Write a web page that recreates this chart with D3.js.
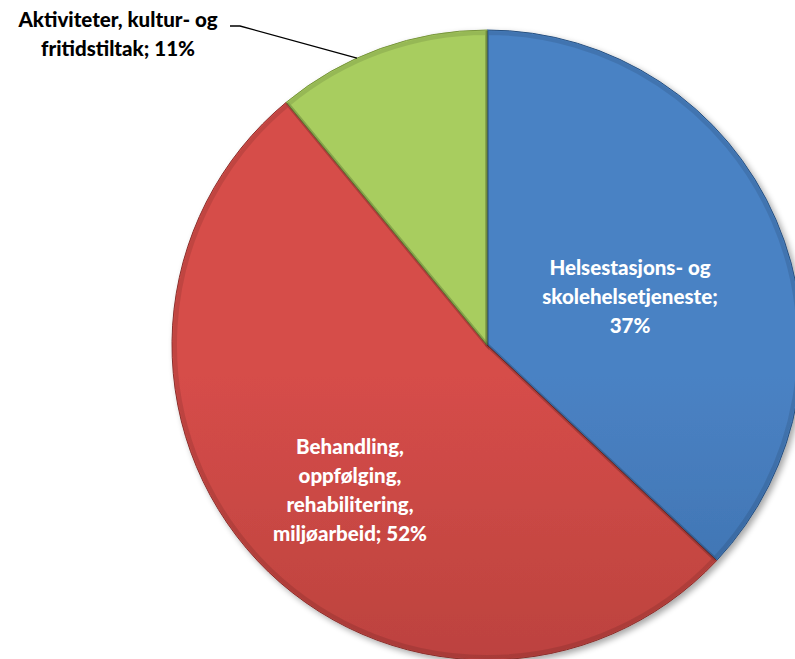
<!DOCTYPE html>
<html><head><meta charset="utf-8">
<script src="https://cdn.jsdelivr.net/npm/d3@7"></script>
<style>
html,body{margin:0;padding:0;background:#fff;overflow:hidden;}
text{font-family:Lato,"Open Sans",sans-serif;font-weight:900;}
</style></head>
<body>
<svg id="chart" width="795" height="659"></svg>
<script>
const categories = ["Helsestasjons- og skolehelsetjeneste", "Behandling, oppfølging, rehabilitering, miljøarbeid", "Aktiviteter, kultur- og fritidstiltak"];
const values = [37, 52, 11];
const labelLines = [
  ["Helsestasjons- og", "skolehelsetjeneste;", "37%"],
  ["Behandling,", "oppfølging,", "rehabilitering,", "miljøarbeid; 52%"],
  ["Aktiviteter, kultur- og", "fritidstiltak; 11%"]
];
const topColors = ["#4a82c4", "#d64d49", "#a8cd5f"];
const bottomColors = ["#2d5b91", "#9d3532", "#88aa46"];

const svg = d3.select("#chart");
const cx = 487, cy = 345, R = 315;
const defs = svg.append("defs");

const f = defs.append("filter").attr("id","shadow").attr("x","-20%").attr("y","-20%").attr("width","140%").attr("height","140%");
f.append("feGaussianBlur").attr("in","SourceAlpha").attr("stdDeviation",3).attr("result","b");
f.append("feOffset").attr("in","b").attr("dx",3).attr("dy",3).attr("result","o");
f.append("feComponentTransfer").attr("in","o").attr("result","o2").append("feFuncA").attr("type","linear").attr("slope",0.35);
const m = f.append("feMerge"); m.append("feMergeNode").attr("in","o2"); m.append("feMergeNode").attr("in","SourceGraphic");

values.forEach((v,i)=>{
  const g = defs.append("linearGradient").attr("id","g"+i).attr("gradientUnits","userSpaceOnUse")
    .attr("x1",0).attr("y1",cy-R).attr("x2",0).attr("y2",cy+R);
  g.append("stop").attr("offset","0%").attr("stop-color",topColors[i]);
  g.append("stop").attr("offset","100%").attr("stop-color",bottomColors[i]);
});

const pie = d3.pie().sort(null).value(d=>d);
const arcs = pie(values);
const arc = d3.arc().innerRadius(0).outerRadius(R);

const g = svg.append("g").attr("transform",`translate(${cx},${cy})`);
g.append("g").attr("filter","url(#shadow)").selectAll("path").data(arcs).join("path")
  .attr("d",arc).attr("fill",(d,i)=>`url(#g${i})`)
  .attr("stroke",(d,i)=>d3.color(bottomColors[i]).darker(0.4)).attr("stroke-width",1).attr("stroke-linejoin","round");

// inner bevel edge
g.append("g").selectAll("path").data(arcs).join("path")
  .attr("d",d3.arc().innerRadius(0).outerRadius(R-3)).attr("fill","none")
  .attr("stroke","rgba(0,0,0,0.10)").attr("stroke-width",4);

// labels
const labelPos = [[630, 268], [350, 447], [118, 20]];
const lineH = 29;
labelLines.forEach((lines,i)=>{
  const t = svg.append("text").attr("text-anchor","middle")
    .attr("font-size",20.5).attr("fill", i===2 ? "#000" : "#fff");
  lines.forEach((s,j)=>{
    t.append("tspan").attr("x",labelPos[i][0]).attr("y",labelPos[i][1]+j*lineH).attr("dy","0.35em").text(s);
  });
});

// leader line for the small slice
const a = arcs[2];
const mid = (a.startAngle + a.endAngle)/2;
const edge = [cx + R*Math.sin(mid-0.08), cy - R*Math.cos(mid-0.08)];
svg.append("polyline").attr("points",`230,26 240,26 ${edge[0]},${edge[1]}`)
  .attr("fill","none").attr("stroke","#000").attr("stroke-width",1.3);
</script>
</body></html>
